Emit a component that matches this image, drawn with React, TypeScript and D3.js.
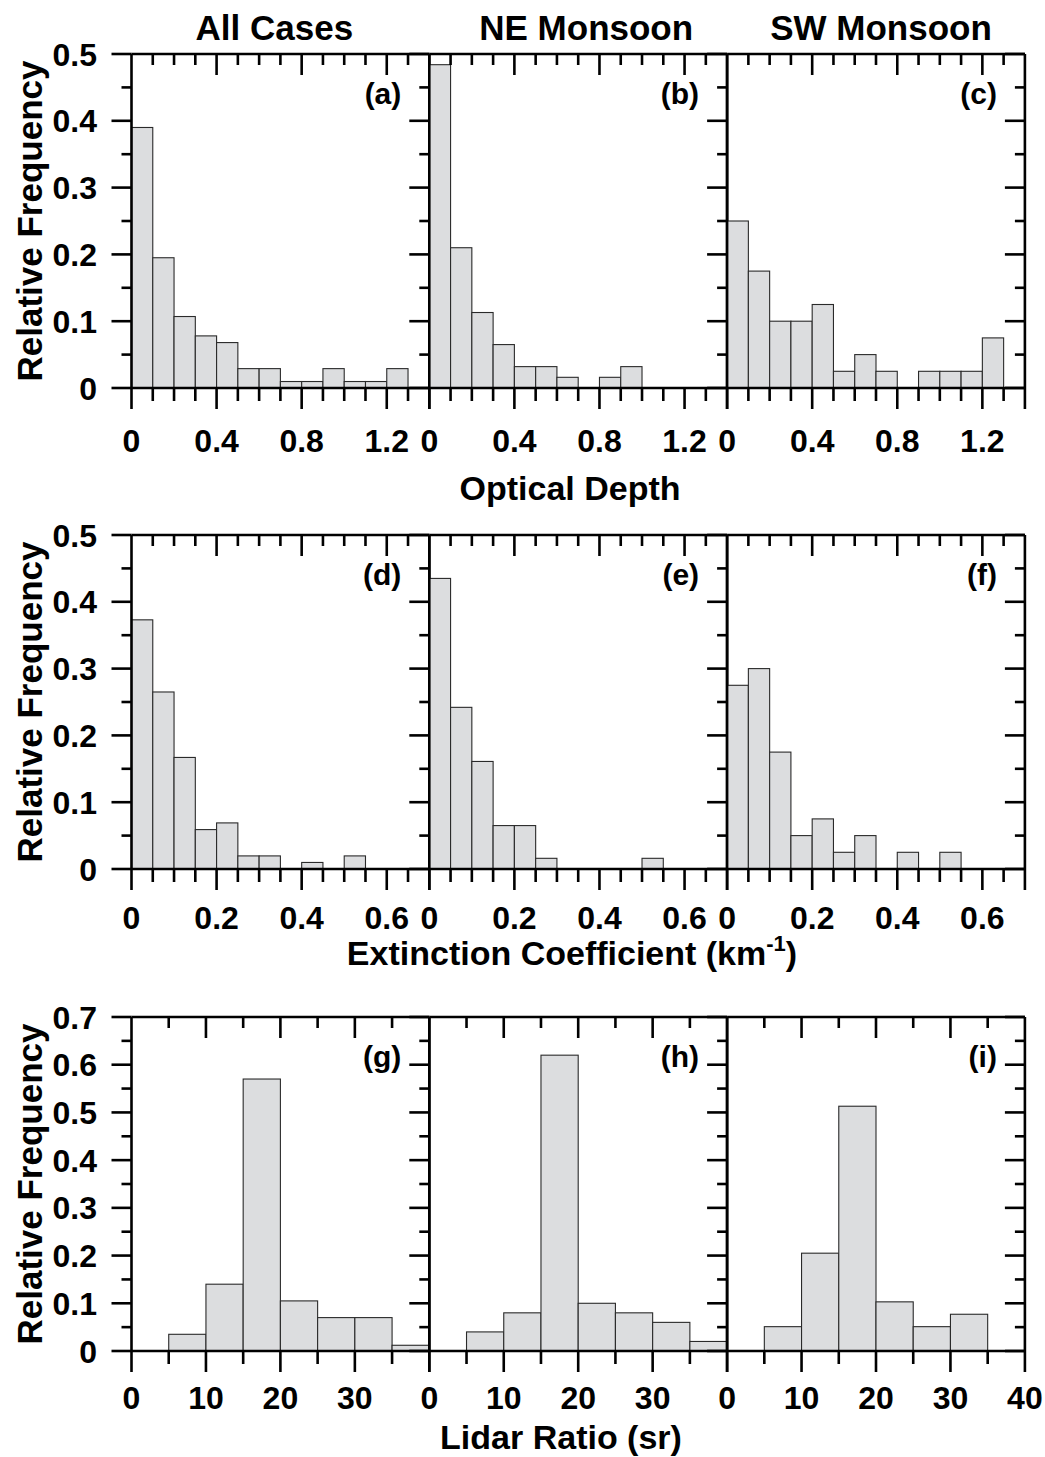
import React from 'react';
import * as d3 from 'd3';

// ---------- DATA ----------
const columnTitles = ['All Cases', 'NE Monsoon', 'SW Monsoon'];
const panelLetters = ['(a)', '(b)', '(c)', '(d)', '(e)', '(f)', '(g)', '(h)', '(i)'];

const odBinStarts = [0, 0.1, 0.2, 0.3, 0.4, 0.5, 0.6, 0.7, 0.8, 0.9, 1.0, 1.1, 1.2];
const odBinWidth = 0.1;
const odAll = [0.390, 0.195, 0.107, 0.078, 0.068, 0.029, 0.029, 0.0097, 0.0097, 0.029, 0.0097, 0.0097, 0.029];
const odNE = [0.484, 0.210, 0.113, 0.065, 0.032, 0.032, 0.016, 0, 0.016, 0.032, 0, 0, 0];
const odSW = [0.25, 0.175, 0.1, 0.1, 0.125, 0.025, 0.05, 0.025, 0, 0.025, 0.025, 0.025, 0.075];

const extBinStarts = [0, 0.05, 0.1, 0.15, 0.2, 0.25, 0.3, 0.35, 0.4, 0.45, 0.5];
const extBinWidth = 0.05;
const extAll = [0.373, 0.265, 0.167, 0.059, 0.069, 0.0196, 0.0196, 0, 0.0098, 0, 0.0196];
const extNE = [0.435, 0.242, 0.161, 0.065, 0.065, 0.016, 0, 0, 0, 0, 0.016];
const extSW = [0.275, 0.3, 0.175, 0.05, 0.075, 0.025, 0.05, 0, 0.025, 0, 0.025];

const lrBinStarts = [5, 10, 15, 20, 25, 30, 35];
const lrBinWidth = 5;
const lrAll = [0.035, 0.14, 0.57, 0.105, 0.07, 0.07, 0.012];
const lrNE = [0.04, 0.08, 0.62, 0.1, 0.08, 0.06, 0.02];
const lrSW = [0.051, 0.205, 0.513, 0.103, 0.051, 0.077, 0];

const odXTicks = [0, 0.1, 0.2, 0.3, 0.4, 0.5, 0.6, 0.7, 0.8, 0.9, 1.0, 1.1, 1.2, 1.3, 1.4];
const odXMajor = [0, 0.4, 0.8, 1.2];
const extXTicks = [0, 0.05, 0.1, 0.15, 0.2, 0.25, 0.3, 0.35, 0.4, 0.45, 0.5, 0.55, 0.6, 0.65, 0.7];
const extXMajor = [0, 0.2, 0.4, 0.6];
const lrXTicks = [0, 5, 10, 15, 20, 25, 30, 35, 40];
const lrXMajor = [0, 10, 20, 30];
const lrXMajorLast = [0, 10, 20, 30, 40];

const yTicks05 = [0, 0.05, 0.1, 0.15, 0.2, 0.25, 0.3, 0.35, 0.4, 0.45, 0.5];
const yLabels05 = [0, 0.1, 0.2, 0.3, 0.4, 0.5];
const yTicks07 = [0, 0.05, 0.1, 0.15, 0.2, 0.25, 0.3, 0.35, 0.4, 0.45, 0.5, 0.55, 0.6, 0.65, 0.7];
const yLabels07 = [0, 0.1, 0.2, 0.3, 0.4, 0.5, 0.6, 0.7];

const xTitles = ['Optical Depth', 'Extinction Coefficient (km', 'Lidar Ratio (sr)'];
const yTitle = 'Relative Frequency';

// ---------- LAYOUT ----------
const W = 1045, H = 1457;
const colLefts = [131.5, 429.3, 727.1];
const panelW = 297.8;
const panelH = 334;
const FONT = "'Liberation Sans', Arial, Helvetica, sans-serif";
const AX = 2.6;

const rows = [
  {
    top: 54, xDomain: [0, 1.4], yMax: 0.5, xTicks: odXTicks, xMajor: [odXMajor, odXMajor, odXMajor],
    yTicks: yTicks05, yLabels: yLabels05, bins: odBinStarts, bw: odBinWidth,
    series: [odAll, odNE, odSW], xFmt: (v: number) => (v === 0 ? '0' : d3.format('.1f')(v)),
    labDy: 64, titleY: 500, titleX: 570,
  },
  {
    top: 535, xDomain: [0, 0.7], yMax: 0.5, xTicks: extXTicks, xMajor: [extXMajor, extXMajor, extXMajor],
    yTicks: yTicks05, yLabels: yLabels05, bins: extBinStarts, bw: extBinWidth,
    series: [extAll, extNE, extSW], xFmt: (v: number) => (v === 0 ? '0' : d3.format('.1f')(v)),
    labDy: 60, titleY: 965, titleX: 572,
  },
  {
    top: 1017, xDomain: [0, 40], yMax: 0.7, xTicks: lrXTicks, xMajor: [lrXMajor, lrXMajor, lrXMajorLast],
    yTicks: yTicks07, yLabels: yLabels07, bins: lrBinStarts, bw: lrBinWidth,
    series: [lrAll, lrNE, lrSW], xFmt: (v: number) => d3.format('d')(v),
    labDy: 58, titleY: 1449, titleX: 561,
  },
];

const yFmt = (v: number) => (v === 0 ? '0' : d3.format('.1f')(v));

function Panel({ row, ri, ci }: { row: any; ri: number; ci: number }) {
  const x0 = colLefts[ci];
  const x = d3.scaleLinear().domain(row.xDomain).range([x0, x0 + panelW]);
  const y = d3.scaleLinear().domain([0, row.yMax]).range([row.top + panelH, row.top]);
  const vals: number[] = row.series[ci];
  const isMajorX = (t: number) => row.xTicks.indexOf(t) % (row.xTicks.length > 10 ? 4 : 2) === 0;
  const majorY = (t: number) => row.yLabels.some((l: number) => Math.abs(l - t) < 1e-9);
  const right = x0 + panelW;
  const bottom = y(0);
  return (
    <g>
      {vals.map((v, i) =>
        v > 0 ? (
          <rect
            key={i}
            x={x(row.bins[i])}
            y={y(v)}
            width={x(row.bins[i] + row.bw) - x(row.bins[i])}
            height={bottom - y(v)}
            fill="#dcdddf"
            stroke="#2a2a2a"
            strokeWidth={1.1}
          />
        ) : null
      )}
      {row.xTicks.map((t: number, i: number) => {
        const major = isMajorX(t) || i === row.xTicks.length - 1;
        const xx = x(t);
        return (
          <g key={'xt' + i}>
            {i > 0 && i < row.xTicks.length - 1 ? (
              <line x1={xx} x2={xx} y1={row.top} y2={row.top + (major ? 21 : 11)} stroke="#000" strokeWidth={AX} />
            ) : null}
            <line x1={xx} x2={xx} y1={bottom} y2={bottom + (major ? 21 : 13)} stroke="#000" strokeWidth={AX} />
          </g>
        );
      })}
      {row.yTicks.map((t: number, i: number) => (
        <line key={'yr' + i} x1={right} x2={right - (majorY(t) ? 20 : 10)} y1={y(t)} y2={y(t)} stroke="#000" strokeWidth={AX} />
      ))}
      {ci === 0
        ? row.yTicks.map((t: number, i: number) => (
            <line key={'yl' + i} x1={x0} x2={x0 - (majorY(t) ? 20 : 10)} y1={y(t)} y2={y(t)} stroke="#000" strokeWidth={AX} />
          ))
        : null}
      {ci === 0
        ? row.yLabels.map((t: number, i: number) => (
            <text key={'ylab' + i} x={97} y={y(t)} dy="0.36em" textAnchor="end" fontSize={32} fontWeight="bold" fontFamily={FONT}>
              {yFmt(t)}
            </text>
          ))
        : null}
      <line x1={x0} x2={x0} y1={row.top} y2={bottom} stroke="#000" strokeWidth={AX} />
      <line x1={right} x2={right} y1={row.top} y2={bottom} stroke="#000" strokeWidth={AX} />
      <line x1={x0} x2={right} y1={row.top} y2={row.top} stroke="#000" strokeWidth={AX} />
      <line x1={x0} x2={right} y1={bottom} y2={bottom} stroke="#000" strokeWidth={AX} />
      {row.xMajor[ci].map((t: number, i: number) => (
        <text key={'xl' + i} x={x(t)} y={bottom + row.labDy} textAnchor="middle" fontSize={32} fontWeight="bold" fontFamily={FONT}>
          {row.xFmt(t)}
        </text>
      ))}
      <text x={right - 28} y={row.top + 50} textAnchor="end" fontSize={30} fontWeight="bold" fontFamily={FONT}>
        {panelLetters[ri * 3 + ci]}
      </text>
    </g>
  );
}

export default function App() {
  return (
    <svg width={W} height={H} style={{ position: 'absolute', left: 0, top: 0, background: '#fff' }}>
      <rect x={0} y={0} width={W} height={H} fill="#fff" />
      {columnTitles.map((t, i) => (
        <text key={t} x={colLefts[i] + panelW / 2 + [-6, 8, 5][i]} y={40} textAnchor="middle" fontSize={35} fontWeight="bold" fontFamily={FONT}>
          {t}
        </text>
      ))}
      {rows.map((row, ri) => (
        <g key={ri}>
          {[0, 1, 2].map((ci) => (
            <Panel key={ci} row={row} ri={ri} ci={ci} />
          ))}
          <text
            transform={`translate(42,${row.top + panelH / 2}) rotate(-90)`}
            textAnchor="middle"
            fontSize={35}
            fontWeight="bold"
            fontFamily={FONT}
          >
            {yTitle}
          </text>
          <text x={row.titleX} y={row.titleY} textAnchor="middle" fontSize={34} fontWeight="bold" fontFamily={FONT}>
            {xTitles[ri]}
            {ri === 1 ? (
              <>
                <tspan fontSize={22} dy={-14}>-1</tspan>
                <tspan dy={14}>)</tspan>
              </>
            ) : null}
          </text>
        </g>
      ))}
    </svg>
  );
}
